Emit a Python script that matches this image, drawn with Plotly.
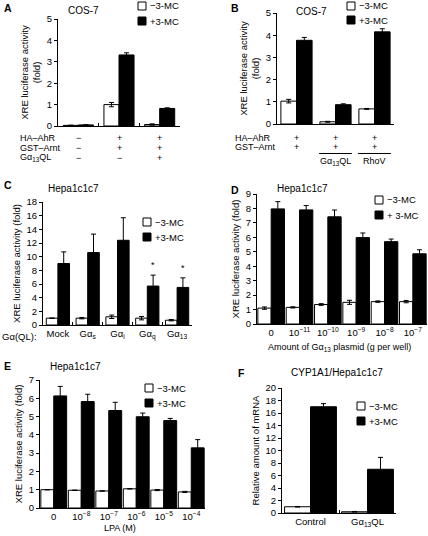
import plotly.graph_objects as go

W, H = 428, 536
FONT = "Arial, Liberation Sans, sans-serif"

# ---------------- data ----------------
a_lanes = ["lane 1", "lane 2", "lane 3"]
a_minus = [0.03, 1.0, 0.07]
a_minus_err = [0.01, 0.1, 0.03]
a_plus = [0.05, 3.32, 0.82]
a_plus_err = [0.01, 0.1, 0.03]
a_rows = ["HA–AhR", "GST–Arnt", "Gα<sub>13</sub>QL"]
a_signs = [["−", "+", "+"], ["−", "+", "+"], ["−", "−", "+"]]

b_lanes = ["lane 1", "lane 2", "lane 3"]
b_minus = [1.03, 0.1, 0.68]
b_minus_err = [0.08, 0.02, 0.02]
b_plus = [3.77, 0.87, 4.15]
b_plus_err = [0.13, 0.04, 0.14]
b_rows = ["HA–AhR", "GST–Arnt"]
b_signs = [["+", "+", "+"], ["+", "+", "+"]]
b_under = ["", "Gα<sub>13</sub>QL", "RhoV"]

c_cats = ["Mock", "Gα<sub>s</sub>", "Gα<sub>i</sub>", "Gα<sub>q</sub>", "Gα<sub>13</sub>"]
c_minus = [1.0, 1.0, 1.2, 1.0, 0.7]
c_minus_err = [0.0, 0.1, 0.25, 0.25, 0.1]
c_plus = [9.0, 10.6, 12.4, 5.7, 5.5]
c_plus_err = [1.7, 2.7, 3.3, 1.6, 1.4]
c_sig = ["", "", "", "*", "*"]

d_cats = ["0", "10<sup>−11</sup>", "10<sup>−10</sup>", "10<sup>−9</sup>", "10<sup>−8</sup>", "10<sup>−7</sup>"]
d_minus = [1.1, 1.15, 1.35, 1.5, 1.55, 1.55]
d_minus_err = [0.08, 0.04, 0.06, 0.14, 0.05, 0.08]
d_plus = [7.97, 7.9, 7.42, 5.98, 5.7, 4.86]
d_plus_err = [0.5, 0.3, 0.47, 0.32, 0.18, 0.28]

e_cats = ["0", "10<sup>−8</sup>", "10<sup>−7</sup>", "10<sup>−6</sup>", "10<sup>−5</sup>", "10<sup>−4</sup>"]
e_minus = [1.0, 0.97, 0.93, 1.05, 0.98, 0.88]
e_minus_err = [0.0, 0.0, 0.0, 0.0, 0.03, 0.03]
e_plus = [6.13, 5.82, 5.33, 4.99, 4.78, 3.29]
e_plus_err = [0.52, 0.4, 0.45, 0.2, 0.12, 0.45]

f_cats = ["Control", "Gα<sub>13</sub>QL"]
f_minus = [1.0, 0.2]
f_minus_err = [0.05, 0.05]
f_plus = [17.0, 7.0]
f_plus_err = [0.5, 1.9]

series_names = ["−3-MC", "+3-MC"]

# ---------------- helpers ----------------
def fx(p):
    return p / W

def fy(p):
    return 1 - p / H

fig = go.Figure()

panels = [
    dict(k="", cats=a_lanes, m=a_minus, me=a_minus_err, p=a_plus, pe=a_plus_err,
         xd=(58, 180), yd=(19, 126), yr=5, dt=1, w=0.37, pn="+3-MC",
         sep=True, showx=False, ytitle="XRE luciferase activity<br>(fold)",
         leg=(142, 6, 21)),
    dict(k="2", cats=b_lanes, m=b_minus, me=b_minus_err, p=b_plus, pe=b_plus_err,
         xd=(277, 394), yd=(13, 124), yr=5, dt=1, w=0.4, pn="+3-MC",
         sep=False, showx=False, ytitle="XRE luciferase activity<br>(fold)",
         leg=(351, 6, 20)),
    dict(k="3", cats=c_cats, m=c_minus, me=c_minus_err, p=c_plus, pe=c_plus_err,
         xd=(43, 192), yd=(202, 325), yr=18, dt=2, w=0.39, pn="+3-MC",
         sep=True, showx=True, ytitle="XRE luciferase activity (fold)",
         leg=(147, 222, 237)),
    dict(k="4", cats=d_cats, m=d_minus, me=d_minus_err, p=d_plus, pe=d_plus_err,
         xd=(257, 427), yd=(194, 324), yr=9, dt=1, w=0.47, pn="+ 3-MC",
         sep=False, showx=True, ytitle="XRE luciferase activity (fold)",
         leg=(379, 200, 215)),
    dict(k="5", cats=e_cats, m=e_minus, me=e_minus_err, p=e_plus, pe=e_plus_err,
         xd=(40, 205), yd=(380, 508), yr=7, dt=1, w=0.47, pn="+3-MC",
         sep=False, showx=True, ytitle="XRE luciferase activity (fold)",
         leg=(149, 388, 403)),
    dict(k="6", cats=f_cats, m=f_minus, me=f_minus_err, p=f_plus, pe=f_plus_err,
         xd=(282, 396), yd=(388, 513), yr=20, dt=2, w=0.455, pn="+3-MC",
         sep=True, showx=True, ytitle="Relative amount of mRNA",
         leg=(361, 406, 421)),
]

layout = dict(
    width=W, height=H, margin=dict(l=0, r=0, t=0, b=0, autoexpand=False),
    paper_bgcolor="white", plot_bgcolor="white", showlegend=False,
    barmode="overlay", font=dict(family=FONT, size=9, color="black"),
    hovermode=False, annotations=[], shapes=[],
)
ann = layout["annotations"]
shapes = layout["shapes"]

def text(x, y, s, size=9.5, xanchor="center", bold=False, xref="paper", yref="paper"):
    ann.append(dict(x=x, y=y, xref=xref, yref=yref, text=("<b>%s</b>" % s) if bold else s,
                    showarrow=False, xanchor=xanchor, yanchor="middle", borderpad=0,
                    font=dict(size=size, family=FONT, color="black")))

for P in panels:
    k = P["k"]
    xa, ya = "x" + k, "y" + k
    common = dict(xaxis=xa, yaxis=ya, width=P["w"])
    fig.add_trace(go.Bar(
        x=P["cats"], y=P["m"], name=series_names[0], offset=-P["w"],
        marker=dict(color="white", line=dict(color="black", width=1)),
        error_y=dict(type="data", array=P["me"], color="black", thickness=1, width=2.5),
        **common))
    fig.add_trace(go.Bar(
        x=P["cats"], y=P["p"], name=P["pn"], offset=0,
        marker=dict(color="black", line=dict(color="black", width=1)),
        error_y=dict(type="data", array=P["pe"], color="black", thickness=1, width=2.5),
        **common))
    xax = dict(
        domain=[fx(P["xd"][0]), fx(P["xd"][1])], anchor=ya, automargin=False,
        type="category", categoryorder="array", categoryarray=P["cats"],
        range=[-0.5, len(P["cats"]) - 0.5], fixedrange=True,
        showline=True, linecolor="black", linewidth=1, showgrid=False, zeroline=False,
        showticklabels=P["showx"], tickfont=dict(size=9.5), tickangle=0,
        ticks="inside" if P["sep"] else "", tickson="boundaries", ticklen=3,
        tickcolor="black",
    )
    yax = dict(
        domain=[fy(P["yd"][1]), fy(P["yd"][0])], anchor=xa, automargin=False,
        range=[0, P["yr"]], dtick=P["dt"], tick0=0, fixedrange=True,
        showline=True, linecolor="black", linewidth=1, showgrid=False, zeroline=False,
        ticks="outside", ticklen=3, tickcolor="black", tickfont=dict(size=9.5),
        title=dict(text=P["ytitle"], font=dict(size=9.5), standoff=4),
    )
    layout["xaxis" + k] = xax
    layout["yaxis" + k] = yax

    # legend (drawn swatches + real text)
    lx, ly1, ly2 = P["leg"]
    for (ly, fill, name) in ((ly1, "white", series_names[0]), (ly2, "black", P["pn"])):
        shapes.append(dict(type="rect", xref="paper", yref="paper",
                           x0=fx(lx - 4), x1=fx(lx + 4), y0=fy(ly + 4), y1=fy(ly - 4),
                           fillcolor=fill, line=dict(color="black", width=1)))
        text(fx(lx + 7), fy(ly), name, xanchor="left")

# x-axis titles (D, E)
text(fx(339), fy(347), "Amount of Gα<sub>13</sub> plasmid (g per well)", size=9)
text(fx(120), fy(528), "LPA (M)", size=9)

# panel letters
for lab, (px, py) in {"A": (3, 8), "B": (230, 8), "C": (3, 185), "D": (230, 190),
                      "E": (3, 366), "F": (237, 373)}.items():
    text(fx(px), fy(py), lab, size=10.5, xanchor="left", bold=True)

# panel titles
text(fx(83), fy(10), "COS-7", size=10)
text(fx(311), fy(12), "COS-7", size=10)
text(fx(73), fy(188), "Hepa1c1c7", size=10)
text(fx(302), fy(188), "Hepa1c1c7", size=10)
text(fx(75), fy(366), "Hepa1c1c7", size=10)
text(fx(337), fy(372), "CYP1A1/Hepa1c1c7", size=10)

# panel A condition rows
for r, (lab, ypx) in enumerate(zip(a_rows, [138.5, 148, 157.5])):
    text(fx(19), fy(ypx), lab, size=9, xanchor="left")
    for i, s in enumerate(a_signs[r]):
        text(i, fy(ypx), s, size=9, xref="x")

# panel B condition rows
for r, (lab, ypx) in enumerate(zip(b_rows, [137.5, 147])):
    text(fx(234), fy(ypx), lab, size=9, xanchor="left")
    for i, s in enumerate(b_signs[r]):
        text(i, fy(ypx), s, size=9, xref="x2")
for i, s in enumerate(b_under):
    if s:
        shapes.append(dict(type="line", xref="x2", yref="paper",
                           x0=i - 0.42, x1=i + 0.42, y0=fy(153.5), y1=fy(153.5),
                           line=dict(color="black", width=1)))
        text(i, fy(161), s, size=9, xref="x2")

# panel C
text(fx(1), fy(336), "Gα(QL):", xanchor="left")
for i, s in enumerate(c_sig):
    if s:
        ann.append(dict(x=i + 0.39 / 2, y=c_plus[i] + c_plus_err[i], xref="x3", yref="y3",
                        text=s, showarrow=False, xanchor="center", yanchor="bottom",
                        yshift=3, font=dict(size=9, family=FONT)))

fig.update_layout(**layout)
fig.write_html("out.html", config={"displayModeBar": False, "staticPlot": True},
               post_script="document.body.style.margin='0px';document.body.style.overflow='hidden';")
